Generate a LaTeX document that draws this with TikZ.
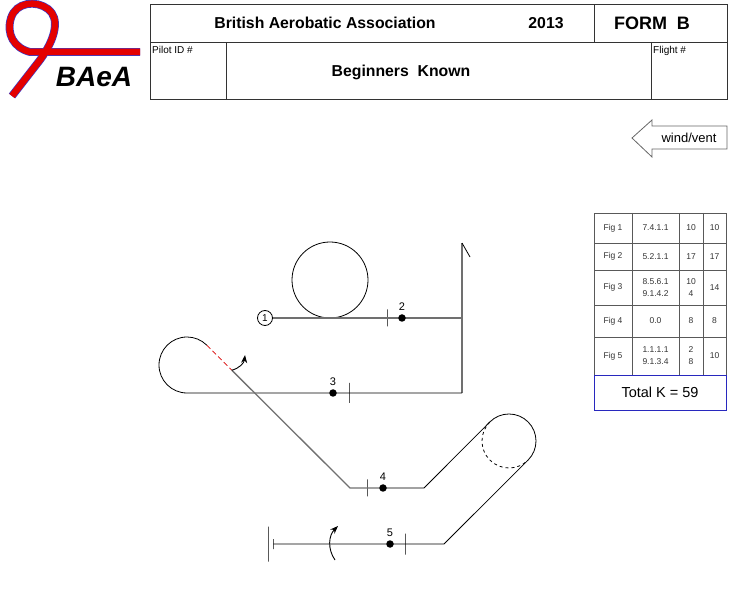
\documentclass[tikz,border=0pt]{standalone}
\usepackage{fontspec}
\setmainfont{Liberation Sans}
\usetikzlibrary{shapes,calc,positioning,arrows.meta}

\definecolor{logored}{RGB}{228,0,0}
\definecolor{logoblue}{RGB}{60,60,200}
\definecolor{pathgray}{RGB}{112,112,112}
\definecolor{totalblue}{RGB}{40,40,190}

\begin{document}
\begin{tikzpicture}[x=1pt,y=1pt,>={Stealth[length=8pt,width=6pt]},
    form line/.style={draw=black!80,line width=1pt},
    cell line/.style={draw=black!65,line width=0.9pt},
    head text/.style={font=\fontsize{15.8}{18}\selectfont\bfseries},
    small text/.style={font=\fontsize{10}{12}\selectfont,inner sep=0pt,anchor=north west},
    cell text/.style={font=\fontsize{8.5}{12}\selectfont,text=black!80,align=center},
    fig dot/.style={circle,fill=black,inner sep=0pt,minimum size=7.5pt},
    fig label/.style={font=\fontsize{11}{13}\selectfont},
    tick bar/.style={draw,rectangle,inner sep=0pt,minimum width=0pt,minimum height=#1,line width=0.8pt},
    tick bar/.default=18pt,
    gray path/.style={draw=pathgray,line width=1.3pt},
    fig path/.style={draw=black,line width=0.8pt},
    red dash/.style={draw=red!85!black,line width=0.8pt,dash pattern=on 5pt off 3pt},
    roll arrow/.style={->,line width=0.9pt}]

    \useasboundingbox (0,0) rectangle (742,-601);

    % logo
    \draw[draw=logoblue,double=logored,double distance=6.5pt,line width=0.7pt]
        (12,-96) -- (40,-60) .. controls (56,-38) and (60,-18) .. (48,-9)
        .. controls (36,0) and (16,-2) .. (11,-18)
        .. controls (6,-34) and (14,-48) .. (30,-52) -- (140,-52);
    \node[font=\fontsize{28}{30}\selectfont\bfseries\itshape] (logo) at (94,-77) {BAeA};

    % form header
    \draw[form line] (150,-5) rectangle (727,-43);
    \draw[form line] (594,-5) -- (594,-43);
    \draw[form line] (150,-43) rectangle (226,-100);
    \draw[form line] (226,-43) rectangle (651,-100);
    \draw[form line] (651,-43) rectangle (727,-100);
    \node[head text] (assoc) at (325,-23) {British Aerobatic Association};
    \node[head text] (year) at (546,-23) {2013};
    \node[head text,font=\fontsize{18}{20}\selectfont\bfseries] (form) at (652,-23) {FORM~~B};
    \node[head text] (title) at (401,-72) {Beginners~~Known};
    \node[small text] (pilot) at (152,-46) {Pilot ID \#};
    \node[small text] (flight) at (653,-46) {Flight \#};

    % wind
    \draw[draw=black!60,line width=0.8pt] (632,-138) -- (652,-120) -- (652,-126) -- (727,-126)
        -- (727,-149) -- (652,-149) -- (652,-157) -- cycle;
    \node[font=\fontsize{13}{15}\selectfont] (wind) at (689,-138) {wind/vent};

    % k-factor table
    \foreach \fig/\code/\kval/\ktotal/\rowtop/\rowbot in {
        1/7.4.1.1/10/10/213/243,
        2/5.2.1.1/17/17/243/270,
        3/{8.5.6.1\\9.1.4.2}/{10\\4}/14/270/305,
        4/0.0/8/8/305/337,
        5/{1.1.1.1\\9.1.3.4}/{2\\8}/10/337/375}{
        \pgfmathsetmacro\rowmid{-(\rowtop+\rowbot)/2}
        \draw[cell line] (594,-\rowtop) rectangle (726,-\rowbot);
        \foreach \xline in {632,679,703}
            \draw[cell line] (\xline,-\rowtop) -- (\xline,-\rowbot);
        \node[cell text] (fig\fig) at (613,\rowmid) {Fig \fig};
        \node[cell text] (code\fig) at (655.5,\rowmid) {\code};
        \node[cell text] (kval\fig) at (691,\rowmid) {\kval};
        \node[cell text] (ktotal\fig) at (714.5,\rowmid) {\ktotal};
    }
    \node[draw=totalblue,line width=0.9pt,minimum width=132pt,minimum height=35pt,inner sep=0pt,
        font=\fontsize{14.5}{17}\selectfont] (totalk) at (660,-392.5) {Total K = 59};

    % sequence
    \node[circle,draw,line width=0.8pt,inner sep=0pt,minimum size=15pt,font=\fontsize{10}{12}\selectfont] (start) at (265,-318) {1};
    \coordinate (turn1) at (462,-318);
    \coordinate (vtop) at (462,-243);
    \coordinate (vbot) at (462,-393);
    \coordinate (flick) at (470,-257);
    \coordinate (loopin) at (187,-393);
    \coordinate (corner4) at (350,-488);
    \coordinate (corner4b) at (424,-488);
    \coordinate (loop4in) at (489.9,-421.9);
    \coordinate (corner5) at (444,-544);
    \coordinate (roll3) at (245,-355);
    \coordinate (roll5a) at (335,-560);
    \coordinate (roll5b) at (338,-526);

    \node[tick bar=17pt] (tick2) at (387,-318) {};
    \node[tick bar=20pt] (tick3) at (349,-393) {};
    \node[tick bar=17pt] (tick4) at (367,-488) {};
    \node[tick bar=21pt] (tick5) at (405,-544) {};
    \node[tick bar=10pt] (end5) at (273,-544) {};
    \node[tick bar=35pt] (endbar) at (268,-544) {};

    \draw[fig path] (330,-280) circle (38);
    \draw[gray path] (start) -- (turn1);
    \draw[gray path] (vtop) -- (vbot);
    \draw[fig path] (vtop) -- (flick);
    \draw[fig path] (vbot) -- (loopin) arc[start angle=-90,end angle=-315,radius=28] coordinate (redstart);
    \draw[red dash] (redstart) -- ++(25,-25) coordinate (redend);
    \draw[gray path] (redend) -- (corner4) -- (corner4b);
    \draw[fig path] (corner4b) -- (loop4in) arc[start angle=135,end angle=-45,radius=27] coordinate (loop4out);
    \draw[fig path,dashed] (loop4in) arc[start angle=135,end angle=315,radius=27];
    \draw[fig path] (loop4out) -- (corner5) -- (end5);

    \node[fig dot,label={[fig label]above:2}] (dot2) at (402,-318) {};
    \node[fig dot,label={[fig label]above:3}] (dot3) at (333,-393) {};
    \node[fig dot,label={[fig label]above:4}] (dot4) at (383,-488) {};
    \node[fig dot,label={[fig label]above:5}] (dot5) at (390,-544) {};

    \draw[roll arrow] (redend) to[bend right=35] (roll3);
    \draw[roll arrow] (roll5a) to[bend left=40] (roll5b);

\end{tikzpicture}
\end{document}
